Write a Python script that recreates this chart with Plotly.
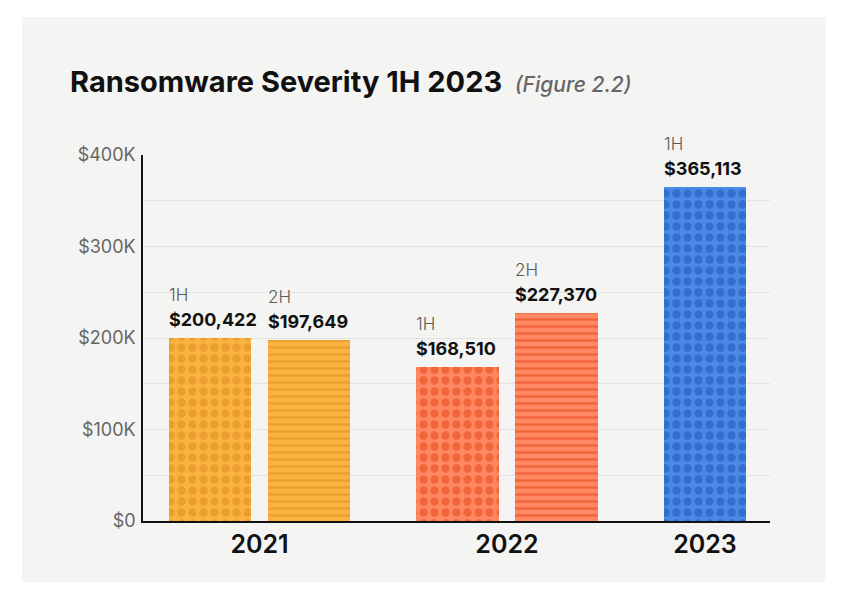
import plotly.graph_objects as go

years = ["2021", "2022", "2023"]
halves = ["1H", "2H", "1H", "2H", "1H"]
bar_years = ["2021", "2021", "2022", "2022", "2023"]
values = [200422, 197649, 168510, 227370, 365113]
base_colors = ["#fbb33f", "#fbb33f", "#ff8762", "#ff8762", "#4a8ae6"]
pattern_colors = ["#eb9e30", "#eb9e30", "#f0663a", "#f0663a", "#336ecf"]
pattern_shapes = [".", "-", ".", "-", "."]
y_ticks = [0, 100000, 200000, 300000, 400000]
y_tick_labels = ["$0", "$100K", "$200K", "$300K", "$400K"]

FONT = "Inter, Roboto, sans-serif"
GROUP_GAP = 0.5
BAR_W = 0.83

# bar positions derived from bar index and group index
positions = []
for i, yr in enumerate(bar_years):
    positions.append(i + years.index(yr) * GROUP_GAP)
year_pos = []
for yr in years:
    ps = [p for p, y in zip(positions, bar_years) if y == yr]
    year_pos.append(sum(ps) / len(ps))

fig = go.Figure()
for i in range(len(values)):
    dots = pattern_shapes[i] == "."
    fig.add_trace(go.Bar(
        x=[positions[i]], y=[values[i]], width=BAR_W,
        marker=dict(
            color=base_colors[i], line=dict(width=0),
            pattern=dict(shape=pattern_shapes[i], fgcolor=pattern_colors[i],
                         bgcolor=base_colors[i], size=11 if dots else 7,
                         solidity=0.45 if dots else 0.35, fillmode="replace"),
        ),
        showlegend=False, hoverinfo="skip",
    ))
    left = positions[i] - BAR_W / 2
    fig.add_annotation(x=left, y=values[i], xref="x", yref="y", text="<b>$" + f"{values[i]:,}" + "</b>",
                       xanchor="left", yanchor="bottom", yshift=6, xshift=-2, showarrow=False,
                       font=dict(family=FONT, size=18, color="#111111", weight=700))
    fig.add_annotation(x=left, y=values[i], xref="x", yref="y", text=halves[i],
                       xanchor="left", yanchor="bottom", yshift=31, xshift=-2, showarrow=False,
                       font=dict(family=FONT, size=17, color="#5a5a5a", weight=300))

# background panel
fig.add_shape(type="rect", xref="paper", yref="paper", x0=-0.193, x1=1.089, y0=-0.167, y1=1.377,
              fillcolor="#f4f4f2", line=dict(width=0), layer="below")

fig.add_annotation(xref="paper", yref="paper", x=-0.119, y=1.2, xanchor="left", yanchor="middle",
                   showarrow=False,
                   text="<b>Ransomware Severity 1H 2023</b>  <span style='font-size:21px;color:#666666;font-weight:500'><i>(Figure 2.2)</i></span>",
                   font=dict(family=FONT, size=29, color="#111111", weight=800))

fig.update_layout(
    width=850, height=607,
    margin=dict(l=143, r=80, t=155, b=86),
    paper_bgcolor="white", plot_bgcolor="rgba(0,0,0,0)",
    bargap=0,
    xaxis=dict(range=[-0.677, 5.657], tickvals=year_pos, ticktext=years, showgrid=False,
               zeroline=False, showline=True, linecolor="#111111", linewidth=1.5, ticks="",
               tickfont=dict(family=FONT, size=25, color="#111111", weight=600), fixedrange=True),
    yaxis=dict(range=[0, 400000], tickvals=y_ticks, ticktext=y_tick_labels, showgrid=True,
               gridcolor="#e2e2e0", gridwidth=1,
               minor=dict(dtick=50000, showgrid=True, gridcolor="#e2e2e0"),
               zeroline=False, showline=True, linecolor="#111111", linewidth=1.5, ticks="",
               ticklabelstandoff=2,
               tickfont=dict(family=FONT, size=18, color="#666666"), fixedrange=True),
)
fig.update_traces(cliponaxis=False)
fig.write_html("out.html", config={"displayModeBar": False},
               post_script="document.body.style.margin='0px';")
